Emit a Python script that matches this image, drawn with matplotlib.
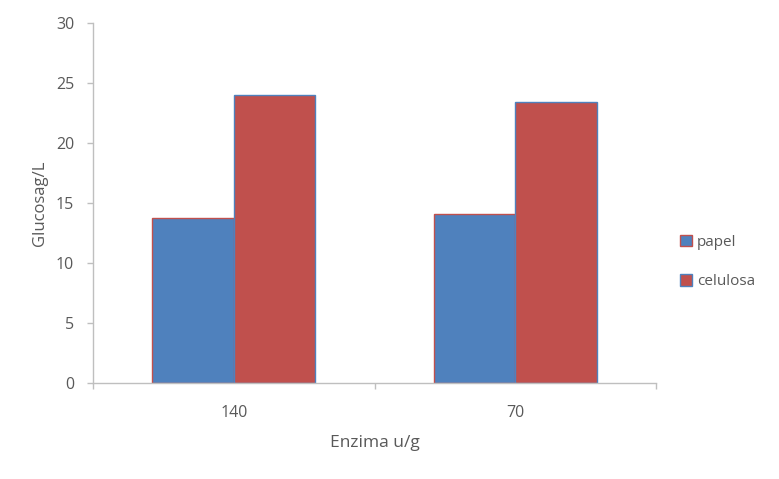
import matplotlib
matplotlib.use("Agg")
import matplotlib.pyplot as plt
import numpy as np

categories = ["140", "70"]
series_names = ["papel", "celulosa"]
papel = [13.75, 14.1]
celulosa = [24.0, 23.45]

blue = "#4F81BD"
red = "#C0504D"
text_grey = "#595959"
axis_grey = "#BFBFBF"

plt.rcParams["font.family"] = ["Open Sans", "DejaVu Sans"]

fig = plt.figure(figsize=(7.79, 4.79), dpi=100)
ax = fig.add_axes([93 / 779, 1 - 383 / 479, (656 - 93) / 779, (383 - 23) / 479])

x = np.arange(len(categories))
w = 0.29
ax.bar(x - w / 2, papel, w, color=blue, edgecolor=red, linewidth=1.0, label=series_names[0])
ax.bar(x + w / 2, celulosa, w, color=red, edgecolor=blue, linewidth=1.0, label=series_names[1])

ax.set_xlim(-0.5, 1.5)
ax.set_ylim(0, 30)
ax.set_yticks(np.arange(0, 31, 5))
ax.set_xticks(x)
ax.set_xticklabels(categories)
ax.set_xticks([-0.5, 0.5, 1.5], minor=True)

for s in ["top", "right"]:
    ax.spines[s].set_visible(False)
for s in ["left", "bottom"]:
    ax.spines[s].set_color(axis_grey)
    ax.spines[s].set_linewidth(1.0)

ax.tick_params(axis="y", colors=axis_grey, labelcolor=text_grey, labelsize=11.5, length=4.5, width=1, pad=9)
ax.tick_params(axis="x", which="major", length=0, labelcolor=text_grey, labelsize=11.5, pad=16)
ax.tick_params(axis="x", which="minor", length=4.5, width=1, colors=axis_grey)

ax.set_ylabel("Glucosag/L", color=text_grey, fontsize=12, labelpad=6)
ax.set_xlabel("Enzima u/g", color=text_grey, fontsize=12.5, labelpad=10)

ax.legend(loc="center left", bbox_to_anchor=(680 / 779, 1 - 262 / 479),
          bbox_transform=fig.transFigure, frameon=False, fontsize=11,
          labelspacing=1.6, handlelength=0.8, handleheight=0.8,
          handletextpad=0.3, borderpad=0, borderaxespad=0,
          labelcolor=text_grey)

fig.savefig("out.png", dpi=100, facecolor="white")
